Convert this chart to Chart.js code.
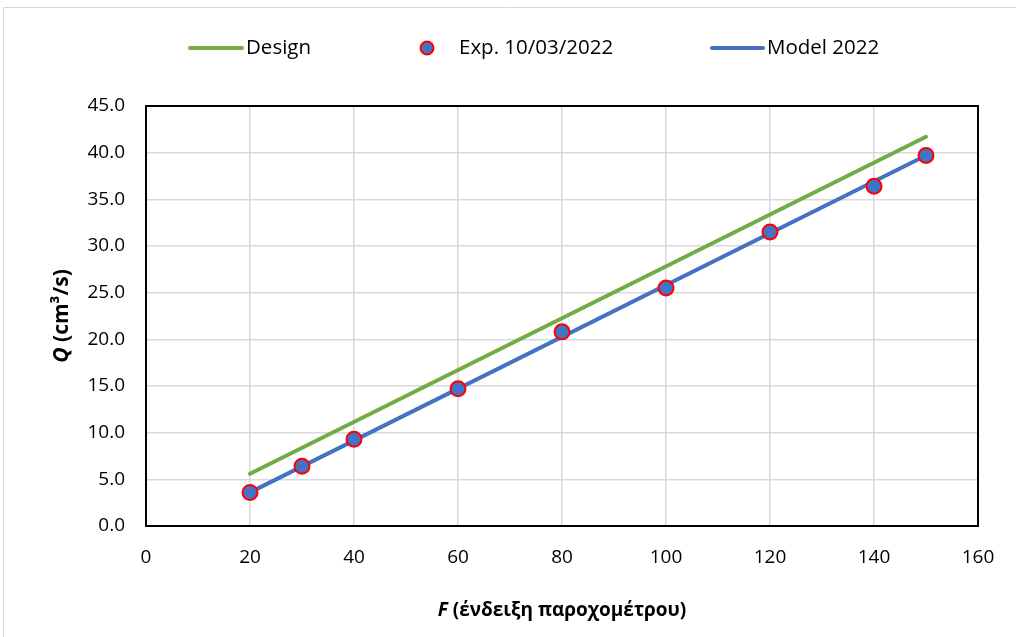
<!DOCTYPE html>
<html>
<head>
<meta charset="utf-8">
<script src="https://cdn.jsdelivr.net/npm/chart.js@4.4.1/dist/chart.umd.min.js"></script>
<style>
html,body{margin:0;padding:0;background:#fff;overflow:hidden}
#wrap{width:1016px;height:637px;position:relative}
canvas{display:block}
</style>
</head>
<body>
<div id="wrap"><canvas id="c" width="1016" height="637"></canvas></div>
<script>
// ---- data ----
const seriesNames = ['Design', 'Exp. 10/03/2022', 'Model 2022'];
const expF = [20, 30, 40, 60, 80, 100, 120, 140, 150];
const expQ = [3.6, 6.4, 9.3, 14.7, 20.8, 25.5, 31.5, 36.4, 39.7];
const designF = [20, 150];
const designQ = [5.6, 41.7];
const modelF = [20, 150];
const modelQ = [3.6, 39.7];
const xTicks = [0, 20, 40, 60, 80, 100, 120, 140, 160];
const yTicks = [0, 5, 10, 15, 20, 25, 30, 35, 40, 45];
const xTitleMain = 'F';
const xTitleRest = ' (ένδειξη παροχομέτρου)';
const yTitleMain = 'Q';
const yTitleRest = ' (cm³/s)';

const GREEN = '#70AD47', BLUE = '#4472C4', RED = '#FF0000';
const FONT = '"Open Sans", "Noto Sans", sans-serif';

function pts(xs, ys) { return xs.map((x, i) => ({ x: x, y: ys[i] })); }

const framePlugin = {
  id: 'frame',
  beforeDraw(chart) {
    const ctx = chart.ctx;
    ctx.save();
    ctx.strokeStyle = '#d9d9d9';
    ctx.lineWidth = 1;
    ctx.beginPath();
    ctx.moveTo(3.5, 640);
    ctx.lineTo(3.5, 7.5);
    ctx.lineTo(1020, 7.5);
    ctx.stroke();
    ctx.restore();
  },
  beforeDatasetsDraw(chart) {
    const a = chart.chartArea, ctx = chart.ctx;
    ctx.save();
    ctx.strokeStyle = '#000';
    ctx.lineWidth = 2;
    ctx.strokeRect(a.left, a.top, a.right - a.left, a.bottom - a.top);
    ctx.restore();
  }
};

const legendPlugin = {
  id: 'customLegend',
  afterDraw(chart) {
    const ctx = chart.ctx;
    const y = 48;
    ctx.save();
    ctx.font = '20.5px ' + FONT;
    ctx.textBaseline = 'middle';
    ctx.fillStyle = '#000';
    ctx.lineCap = 'round';
    // Design
    ctx.strokeStyle = GREEN; ctx.lineWidth = 4;
    ctx.beginPath(); ctx.moveTo(190, y); ctx.lineTo(242, y); ctx.stroke();
    ctx.fillText(seriesNames[0], 246, y);
    // Exp
    ctx.beginPath(); ctx.arc(427, y, 6.5, 0, Math.PI * 2);
    ctx.fillStyle = BLUE; ctx.fill();
    ctx.strokeStyle = RED; ctx.lineWidth = 2; ctx.stroke();
    ctx.fillStyle = '#000';
    ctx.fillText(seriesNames[1], 459, y);
    // Model
    ctx.strokeStyle = BLUE; ctx.lineWidth = 4;
    ctx.beginPath(); ctx.moveTo(712, y); ctx.lineTo(763, y); ctx.stroke();
    ctx.fillText(seriesNames[2], 767, y);
    ctx.restore();
  }
};

function drawMixed(ctx, main, rest, cx, cy, size) {
  const fMain = 'italic bold ' + size + 'px ' + FONT;
  const fRest = 'bold ' + size + 'px ' + FONT;
  ctx.font = fMain; const w1 = ctx.measureText(main).width;
  ctx.font = fRest; const w2 = ctx.measureText(rest).width;
  const x0 = cx - (w1 + w2) / 2;
  ctx.textBaseline = 'middle';
  ctx.textAlign = 'left';
  ctx.font = fMain; ctx.fillText(main, x0, cy);
  ctx.font = fRest; ctx.fillText(rest, x0 + w1, cy);
}

const titlesPlugin = {
  id: 'axisTitles',
  afterDraw(chart) {
    const ctx = chart.ctx, a = chart.chartArea;
    ctx.save();
    ctx.fillStyle = '#000';
    drawMixed(ctx, xTitleMain, xTitleRest, (a.left + a.right) / 2, 611, 19);
    ctx.translate(62, (a.top + a.bottom) / 2);
    ctx.rotate(-Math.PI / 2);
    drawMixed(ctx, yTitleMain, yTitleRest, 0, 0, 21);
    ctx.restore();
  }
};

new Chart(document.getElementById('c'), {
  type: 'scatter',
  data: {
    datasets: [
      {
        label: seriesNames[1], data: pts(expF, expQ), order: 0,
        pointRadius: 7.5, pointHoverRadius: 7.5, pointBackgroundColor: BLUE,
        pointBorderColor: RED, pointBorderWidth: 2, showLine: false
      },
      {
        label: seriesNames[2], data: pts(modelF, modelQ), order: 1,
        showLine: true, borderColor: BLUE, borderWidth: 4, pointRadius: 0,
        borderCapStyle: 'round'
      },
      {
        label: seriesNames[0], data: pts(designF, designQ), order: 2,
        showLine: true, borderColor: GREEN, borderWidth: 4, pointRadius: 0,
        borderCapStyle: 'round'
      }
    ]
  },
  options: {
    responsive: false,
    animation: false,
    devicePixelRatio: 1,
    layout: { padding: { left: 0, right: 38, top: 106, bottom: 0 } },
    plugins: { legend: { display: false }, tooltip: { enabled: false } },
    scales: {
      x: {
        type: 'linear', min: xTicks[0], max: xTicks[xTicks.length - 1],
        afterBuildTicks: s => { s.ticks = xTicks.map(v => ({ value: v })); },
        afterFit: s => { s.height = 111; },
        ticks: { font: { family: FONT, size: 19 }, color: '#000', padding: 20,
                 callback: v => String(v), maxRotation: 0 },
        grid: { color: '#d9d9d9', lineWidth: 1.5, drawTicks: false },
        border: { display: false }
      },
      y: {
        type: 'linear', min: yTicks[0], max: yTicks[yTicks.length - 1],
        afterBuildTicks: s => { s.ticks = yTicks.map(v => ({ value: v })); },
        afterFit: s => { s.width = 146; },
        ticks: { font: { family: FONT, size: 19 }, color: '#000', padding: 21,
                 callback: v => Number(v).toFixed(1) },
        grid: { color: '#d9d9d9', lineWidth: 1.5, drawTicks: false },
        border: { display: false }
      }
    }
  },
  plugins: [framePlugin, legendPlugin, titlesPlugin]
});
</script>
</body>
</html>
